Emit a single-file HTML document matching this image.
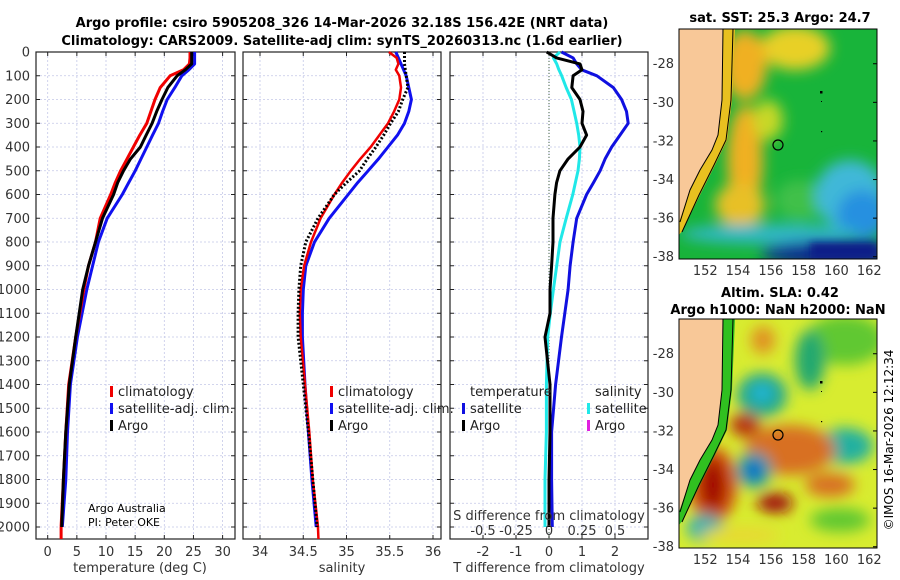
<!DOCTYPE html>
<html><head><meta charset="utf-8"><style>
html,body{margin:0;padding:0;background:#fff;}
svg{display:block;font-family:"DejaVu Sans","Liberation Sans",sans-serif;}
</style></head><body>
<svg id="fig" width="900" height="580" viewBox="0 0 900 580">
<defs>
<filter id="bl" x="-50%" y="-50%" width="200%" height="200%"><feGaussianBlur stdDeviation="7"/></filter>
<filter id="bl2" x="-50%" y="-50%" width="200%" height="200%"><feGaussianBlur stdDeviation="4"/></filter>
<clipPath id="c1"><rect x="679" y="29" width="198" height="230"/></clipPath>
<clipPath id="c2"><rect x="679" y="319" width="198" height="229"/></clipPath>
</defs>
<text x="342" y="27" text-anchor="middle" font-size="13" font-weight="bold">Argo profile: csiro 5905208_326 14-Mar-2026 32.18S 156.42E (NRT data)</text>
<text x="342" y="45" text-anchor="middle" font-size="13" font-weight="bold">Climatology: CARS2009. Satellite-adj clim: synTS_20260313.nc (1.6d earlier)</text>

<g id="charts"></g>

<!-- SST map -->
<g clip-path="url(#c1)">
<rect x="679" y="29" width="198" height="230" fill="#18b43a"/>
<g filter="url(#bl)">
<ellipse cx="795" cy="48" rx="35" ry="22" fill="#e8d028"/>
<ellipse cx="745" cy="65" rx="22" ry="35" fill="#f0b020"/>
<ellipse cx="745" cy="160" rx="18" ry="55" fill="#f0b020"/>
<ellipse cx="768" cy="120" rx="15" ry="20" fill="#c8d828"/>
<ellipse cx="740" cy="205" rx="25" ry="22" fill="#e8c028"/>
<ellipse cx="800" cy="200" rx="25" ry="20" fill="#40c048"/>
<ellipse cx="850" cy="195" rx="35" ry="35" fill="#40b8d8"/>
<ellipse cx="862" cy="215" rx="25" ry="25" fill="#2890e0"/>
<ellipse cx="770" cy="234" rx="90" ry="10" fill="#30b8c8"/>
<ellipse cx="830" cy="253" rx="70" ry="12" fill="#102090"/>
</g>
<rect x="810" y="243" width="67" height="16" fill="#0a1a88" filter="url(#bl2)"/>
<polygon points="679,29 723,29 722,100 718,135 712,150 700,170 690,190 680,222 679,222" fill="#f8c898"/>
<polygon points="723,29 735,29 732,100 727,140 715,165 700,195 683,230 679,235 679,222 690,190 700,170 712,150 718,135 722,100" fill="#e8c020"/>
<polyline points="723,29 722,100 718,135 712,150 700,170 690,190 680,222" fill="none" stroke="#000" stroke-width="1"/>
<polyline points="733,29 731,100 726,140 714,165 699,195 682,232" fill="none" stroke="#000" stroke-width="1"/>
<circle cx="778" cy="145" r="5" fill="none" stroke="#000" stroke-width="1.2"/>
<rect x="820" y="91" width="2.5" height="2.5" fill="#000"/><rect x="821" y="101" width="1" height="1" fill="#000"/><rect x="821" y="131" width="1.2" height="1.2" fill="#000"/>
</g>
<rect x="679" y="29" width="198" height="230" fill="none" stroke="#000" stroke-width="1"/>
<text x="780" y="22" text-anchor="middle" font-size="13" font-weight="bold">sat. SST: 25.3 Argo: 24.7</text>

<!-- SLA map -->
<g clip-path="url(#c2)">
<rect x="679" y="319" width="198" height="229" fill="#d8ec30"/>
<g filter="url(#bl)">
<ellipse cx="845" cy="340" rx="40" ry="25" fill="#60c830"/>
<ellipse cx="810" cy="360" rx="15" ry="30" fill="#20a870"/>
<ellipse cx="762" cy="395" rx="25" ry="22" fill="#20a890"/>
<ellipse cx="762" cy="393" rx="10" ry="8" fill="#20b8e0"/>
<ellipse cx="845" cy="446" rx="28" ry="18" fill="#20b0a0"/>
<ellipse cx="790" cy="450" rx="45" ry="25" fill="#d87020"/>
<ellipse cx="745" cy="425" rx="15" ry="12" fill="#b83010"/>
<ellipse cx="713" cy="485" rx="24" ry="38" fill="#d05010"/>
<ellipse cx="713" cy="485" rx="12" ry="26" fill="#a00000"/>
<ellipse cx="754" cy="470" rx="18" ry="18" fill="#20a0a0"/>
<ellipse cx="754" cy="470" rx="8" ry="10" fill="#1060d0"/>
<ellipse cx="775" cy="503" rx="18" ry="10" fill="#a01010"/>
<ellipse cx="830" cy="485" rx="25" ry="12" fill="#d87020"/>
<ellipse cx="763" cy="340" rx="12" ry="14" fill="#e09020"/>
<ellipse cx="705" cy="528" rx="18" ry="14" fill="#30b0b0"/>
<ellipse cx="840" cy="520" rx="30" ry="12" fill="#60c830"/>
<ellipse cx="740" cy="535" rx="40" ry="8" fill="#e8d830"/>
</g>
<polygon points="679,319 723,319 722,390 718,425 712,440 700,460 690,480 680,512 679,512" fill="#f8c898"/>
<polygon points="723,319 735,319 732,390 727,430 715,455 700,485 683,520 679,525 679,512 690,480 700,460 712,440 718,425 722,390" fill="#30c020"/>
<polyline points="723,319 722,390 718,425 712,440 700,460 690,480 680,512" fill="none" stroke="#000" stroke-width="1"/>
<polyline points="733,319 731,390 726,430 714,455 699,485 682,522" fill="none" stroke="#000" stroke-width="1"/>
<circle cx="778" cy="435" r="5" fill="none" stroke="#000" stroke-width="1.2"/>
<rect x="820" y="381" width="2.5" height="2.5" fill="#000"/><rect x="821" y="391" width="1" height="1" fill="#000"/><rect x="821" y="421" width="1.2" height="1.2" fill="#000"/>
</g>
<rect x="679" y="319" width="198" height="229" fill="none" stroke="#000" stroke-width="1"/>
<text x="780" y="297" text-anchor="middle" font-size="13" font-weight="bold">Altim. SLA: 0.42</text>
<text x="778" y="314" text-anchor="middle" font-size="13" font-weight="bold">Argo h1000: NaN h2000: NaN</text>
<g id="maplabels"></g>
<text transform="translate(893,440) rotate(-90)" text-anchor="middle" font-size="12">©IMOS 16-Mar-2026 12:12:34</text>
</svg>
<script>
// ---- data ----
const depths    = [0,25,50,75,100,150,200,250,300,350,400,450,500,550,600,700,800,900,1000,1100,1200,1400,1600,1800,2000];
const tempClim  = [24.4,24.4,24.3,23.3,21.0,19.3,18.4,17.7,17.0,15.8,14.7,13.6,12.5,11.6,10.8,9.0,8.2,7.0,6.2,5.5,4.8,3.6,3.1,2.7,2.3];
const tempSat   = [25.2,25.2,25.2,24.2,23.0,21.8,20.5,19.7,19.0,18.0,17.0,16.0,15.0,13.9,12.8,10.2,8.7,7.7,6.7,5.9,5.1,3.9,3.4,3.1,2.5];
const tempArgo  = [24.7,24.7,24.7,23.6,22.2,20.6,19.6,18.7,17.9,16.9,15.9,14.2,13.0,12.0,11.3,9.4,8.2,7.0,6.0,5.4,4.8,3.7,3.1,2.7,2.4];
const salClim   = [35.49,35.58,35.6,35.57,35.61,35.63,35.61,35.55,35.48,35.38,35.28,35.16,35.05,34.95,34.86,34.70,34.59,34.51,34.47,34.46,34.47,34.52,34.57,34.61,34.67];
const salSat    = [35.57,35.6,35.63,35.66,35.69,35.72,35.75,35.72,35.67,35.59,35.48,35.37,35.25,35.13,35.02,34.80,34.63,34.53,34.50,34.49,34.49,34.52,34.56,34.60,34.65];
const salArgo   = [35.67,35.67,35.67,35.68,35.69,35.71,35.65,35.60,35.51,35.43,35.34,35.24,35.15,35.00,34.86,34.67,34.53,34.47,34.45,34.44,34.44,34.50,34.56,34.61,34.66];
const dTSat     = [0.38,0.73,0.84,0.99,1.45,1.95,2.2,2.35,2.4,2.15,1.9,1.7,1.55,1.35,1.14,0.84,0.73,0.64,0.58,0.48,0.38,0.2,0.08,0.08,0.1];
const dSSat     = [0.083,0.033,0.058,0.075,0.096,0.13,0.17,0.19,0.21,0.225,0.235,0.23,0.22,0.2,0.18,0.13,0.083,0.058,0.033,0.01,-0.01,-0.02,-0.02,-0.03,-0.03];
const dTArgo    = [-0.07,0.23,0.94,1.0,0.73,0.69,0.94,1.03,1.0,1.14,0.94,0.58,0.33,0.23,0.18,0.12,0.12,0.08,0.03,0.03,-0.12,0.03,0.03,0.0,0.0];
const depthTicks = [0,100,200,300,400,500,600,700,800,900,1000,1100,1200,1300,1400,1500,1600,1700,1800,1900,2000];
const tTicks = [0,5,10,15,20,25,30];
const sTicks = [34,34.5,35,35.5,36];
const dTTicks = [-2,-1,0,1,2];
const dSTickLabels = ["-0.5","-0.25","0","0.25","0.5"];
const dSTickVals = [-0.5,-0.25,0,0.25,0.5];
const latTicks = [-28,-30,-32,-34,-36,-38];
const lonTicks = [152,154,156,158,160,162];

const NS='http://www.w3.org/2000/svg';
const root=document.getElementById('charts');
function el(tag,attrs,parent){const e=document.createElementNS(NS,tag);for(const k in attrs)e.setAttribute(k,attrs[k]);(parent||root).appendChild(e);return e;}
function txt(x,y,s,attrs,parent){const e=el('text',Object.assign({x:x,y:y,'font-size':13},attrs||{}),parent);e.textContent=s;return e;}

const Y0=52, YB=539, yScale=d=>Y0+d*0.2375;
const panels=[
 {l:36,r:235,x:v=>47.7+v*5.83,name:'temperature-panel'},
 {l:243,r:441,x:v=>260+(v-34)*86.5,name:'salinity-panel'},
 {l:450,r:648,x:v=>549+v*33,name:'difference-panel'}
];
const sx=v=>549+v*132;

panels.forEach((p,i)=>{
 const g=el('g',{});
 
 
 depthTicks.forEach(d=>{el('line',{x1:p.l,x2:p.r,y1:yScale(d),y2:yScale(d),stroke:'#c4c8e8','stroke-width':0.8,'stroke-dasharray':'2,2'},g);
  el('line',{x1:p.l,x2:p.l+4,y1:yScale(d),y2:yScale(d),stroke:'#222'},g);el('line',{x1:p.r-4,x2:p.r,y1:yScale(d),y2:yScale(d),stroke:'#222'},g);});
 const ticks=i===0?tTicks:i===1?sTicks:dTTicks;
 ticks.forEach(t=>{const x=p.x(t);el('line',{x1:x,x2:x,y1:Y0,y2:YB,stroke:'#c4c8e8','stroke-width':0.8,'stroke-dasharray':'2,2'},g);
  el('line',{x1:x,x2:x,y1:YB-4,y2:YB,stroke:'#222'},g);el('line',{x1:x,x2:x,y1:Y0,y2:Y0+4,stroke:'#222'},g);
  const lab=txt(x,556,String(t),{'text-anchor':'middle',fill:'#333'},g);
  
  });
 el('rect',{x:p.l,y:Y0,width:p.r-p.l,height:YB-Y0,fill:'none',stroke:'#222','stroke-width':1.2},g);
});
depthTicks.forEach(d=>{const t=txt(30,yScale(d)+4.5,String(d),{'text-anchor':'end',fill:'#333'});
 
 });

function line(xs,xf,col,w,name,dash,maxD){
 let pts=[];depths.forEach((d,k)=>{if(maxD===undefined||d<=maxD)pts.push(xf(xs[k]).toFixed(1)+','+yScale(d).toFixed(1));});
 const a={points:pts.join(' '),fill:'none',stroke:col,'stroke-width':w,'stroke-linejoin':'round'};
 if(dash)a['stroke-dasharray']=dash;
 const e=el('polyline',a);
 
 
 return e;}
const p0=panels[0],p1=panels[1];
line(tempSat,p0.x,'#1010f0',3,'temp-satellite-line');
line(tempClim,p0.x,'#f00000',3,'temp-climatology-line');
el('line',{x1:p0.x(tempClim[tempClim.length-1]),x2:p0.x(tempClim[tempClim.length-1]),y1:yScale(2000),y2:YB,stroke:'#f00000','stroke-width':3});
line(tempArgo,p0.x,'#000',3,'temp-argo-line');
line(salSat,p1.x,'#1010f0',3,'sal-satellite-line');
line(salClim,p1.x,'#f00000',2.5,'sal-climatology-line');
el('line',{x1:p1.x(salClim[salClim.length-1]),x2:p1.x(salClim[salClim.length-1])+0.5,y1:yScale(2000),y2:YB,stroke:'#f00000','stroke-width':2.5});
line(salArgo,p1.x,'#000',3,'sal-argo-line','2,2');
el('line',{x1:549,x2:549,y1:Y0,y2:YB,stroke:'#446644','stroke-width':1,'stroke-dasharray':'1,2'});
line(dTSat,panels[2].x,'#1010e0',3,'dT-satellite-line');
line(dSSat,sx,'#20e8e8',3,'dS-satellite-line');
line(dTArgo,panels[2].x,'#000',3,'dT-argo-line');

function leg(x,y,col,label,name){const g=el('g',{});
 el('rect',{x:x,y:y-10,width:3,height:11,fill:col},g);txt(x+8,y,label,{fill:'#222'},g);}
leg(110,396,'#f00000','climatology','legend-climatology');
leg(110,413,'#1010f0','satellite-adj. clim.','legend-satellite-adj');
leg(110,430,'#000','Argo','legend-argo');
leg(330,396,'#f00000','climatology','legend-climatology-s');
leg(330,413,'#1010f0','satellite-adj. clim.','legend-satellite-adj-s');
leg(330,430,'#000','Argo','legend-argo-s');
txt(470,396,'temperature',{fill:'#222'});
leg(462,413,'#1010e0','satellite','legend-t-satellite');
leg(462,430,'#000','Argo','legend-t-argo');
txt(595,396,'salinity',{fill:'#222'});
leg(587,413,'#20e8e8','satellite','legend-s-satellite');
leg(587,430,'#e020e0','Argo','legend-s-argo');
txt(88,512,'Argo Australia',{'font-size':11});
txt(88,526,'PI: Peter OKE',{'font-size':11});
txt(549,520,'S difference from climatology',{'text-anchor':'middle',fill:'#333'});
dSTickVals.forEach((v,k)=>txt(sx(v),535,dSTickLabels[k],{'text-anchor':'middle',fill:'#333'}));
[['temperature (deg C)',140],['salinity',342],['T difference from climatology',549]].forEach(a=>{
 const t=txt(a[1],572,a[0],{'text-anchor':'middle',fill:'#333'});
 
 });
const ml=document.getElementById('maplabels');
[[29,259],[319,548]].forEach(r=>{
 latTicks.forEach(l=>{const y=r[0]+(-26.2-l)*19.3;txt(674,y+4.5,String(l),{'text-anchor':'end',fill:'#333'},ml);
  el('line',{x1:873,x2:877,y1:y,y2:y,stroke:'#000'},ml);});
 lonTicks.forEach(l=>{const x=679+(l-150.4)*16.4;txt(x,r[1]+16,String(l),{'text-anchor':'middle',fill:'#333'},ml);});
});
</script>
</body></html>
